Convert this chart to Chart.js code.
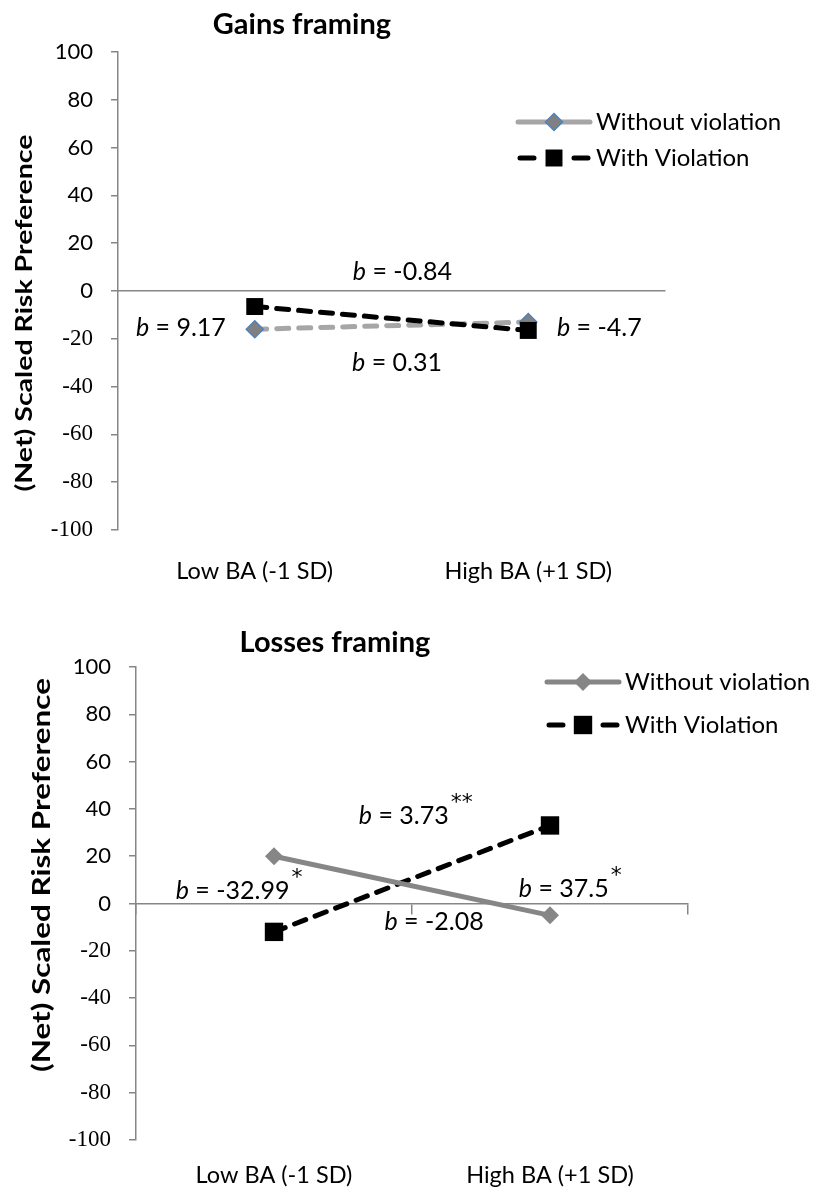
<!DOCTYPE html>
<html>
<head>
<meta charset="utf-8">
<script src="https://cdn.jsdelivr.net/npm/chart.js@4.4.0/dist/chart.umd.min.js"></script>
<style>
  body { margin: 0; background: #fff; }
  .box { position: absolute; left: 0; width: 813px; }
</style>
</head>
<body>
<div class="box" style="top:0;height:595px"><canvas id="gains" width="813" height="595"></canvas></div>
<div class="box" style="top:600px;height:589px"><canvas id="losses" width="813" height="589"></canvas></div>
<script>
const categories = ["Low BA (-1 SD)", "High BA (+1 SD)"];
const seriesNames = ["Without violation", "With Violation"];

// Gains framing
const gainsWithout = [-16, -13];
const gainsWith = [-6.5, -16.5];
const gainsSlopes = ["-0.84", "9.17", "-4.7", "0.31"];
const gainsStars = ["", "", "", ""];

// Losses framing
const lossesWithout = [20, -5];
const lossesWith = [-12, 33];
const lossesSlopes = ["3.73", "-32.99", "37.5", "-2.08"];
const lossesStars = ["**", "*", "*", ""];

const AXIS = "#868686";
const SANS = "Lato, sans-serif";
const SERIF = "'Liberation Serif', serif";

Chart.defaults.font.family = SANS;
Chart.defaults.color = "#000";

function drawMarker(ctx, style, x, y, r, fill, stroke, bw) {
  ctx.beginPath();
  if (style === "rectRot") {
    ctx.moveTo(x, y - r); ctx.lineTo(x + r, y); ctx.lineTo(x, y + r); ctx.lineTo(x - r, y);
  } else {
    const s = r * Math.SQRT1_2;
    ctx.rect(x - s, y - s, 2 * s, 2 * s);
  }
  ctx.closePath();
  ctx.fillStyle = fill;
  ctx.fill();
  if (bw) { ctx.setLineDash([]); ctx.lineWidth = bw; ctx.strokeStyle = stroke; ctx.stroke(); }
}

function drawNote(ctx, text, stars, cx, cy, size) {
  const rest = " = " + text;
  ctx.font = "italic " + size + "px " + SANS;
  const wb = ctx.measureText("b").width;
  ctx.font = size + "px " + SANS;
  const wr = ctx.measureText(rest).width;
  const x0 = cx - (wb + wr) / 2;
  ctx.textAlign = "left";
  ctx.textBaseline = "middle";
  ctx.fillStyle = "#000";
  ctx.font = "italic " + size + "px " + SANS;
  ctx.fillText("b", x0, cy);
  ctx.font = size + "px " + SANS;
  ctx.fillText(rest, x0 + wb, cy);
  if (stars) {
    ctx.font = "22px 'DejaVu Sans', sans-serif";
    ctx.fillText(stars, x0 + wb + wr + 2, cy - size * 0.5);
  }
}

const decor = {
  id: "decor",
  afterDraw(chart, args, o) {
    const ctx = chart.ctx;
    const xs = chart.scales.x, ys = chart.scales.y;
    ctx.save();
    ctx.fillStyle = "#000";
    ctx.textAlign = "center";
    ctx.textBaseline = "middle";
    ctx.font = "bold 29px " + SANS;
    ctx.fillText(o.title, o.titleX, o.titleY);

    // y tick labels: positives in sans, negatives in serif, as in the source
    ctx.textAlign = "right";
    ys.ticks.forEach(t => {
      const py = ys.getPixelForValue(t.value);
      ctx.font = t.value < 0 ? "23px " + SERIF : "22px " + SANS;
      ctx.fillText(String(t.value), ys.right - 25, py);
    });

    // y axis title, stretched along its length like the source
    ctx.save();
    ctx.translate(o.yTitleX, o.yTitleY);
    ctx.rotate(-Math.PI / 2);
    ctx.font = "bold " + o.yTitleSize + "px " + SANS;
    const tt = "(Net) Scaled Risk Preference";
    const tw = ctx.measureText(tt).width;
    ctx.scale(o.yTitleLen / tw, 1);
    ctx.textAlign = "center";
    ctx.fillText(tt, 0, 0);
    ctx.restore();

    // legend
    chart.data.datasets.forEach((ds, i) => {
      const ly = o.legendY + i * o.legendGap;
      const lx = o.legendX, len = 72;
      ctx.strokeStyle = ds.borderColor;
      ctx.lineWidth = ds.borderWidth;
      ctx.lineCap = "round";
      ctx.setLineDash([]);
      ctx.beginPath();
      if (ds.borderDash && o.solidLegend !== i) {
        ctx.moveTo(lx + 2, ly); ctx.lineTo(lx + 16, ly);
        ctx.moveTo(lx + len - 16, ly); ctx.lineTo(lx + len - 2, ly);
      } else {
        ctx.moveTo(lx, ly); ctx.lineTo(lx + len, ly);
      }
      ctx.stroke();
      drawMarker(ctx, ds.pointStyle, lx + len / 2, ly, ds.pointRadius,
        ds.pointBackgroundColor, ds.pointBorderColor, ds.pointBorderWidth);
      ctx.fillStyle = "#000";
      ctx.textAlign = "left";
      ctx.textBaseline = "middle";
      ctx.font = "24px " + SANS;
      ctx.fillText(ds.label, lx + len + 6, ly);
    });

    // slope notes, placed through the chart scales
    o.notes.forEach((p, i) => {
      drawNote(ctx, o.slopes[i], o.stars[i], xs.getPixelForValue(p[0]), ys.getPixelForValue(p[1]), 25);
    });
    ctx.restore();
  }
};

function makeChart(id, cfg) {
  return new Chart(document.getElementById(id), {
    type: "line",
    data: {
      labels: categories,
      datasets: cfg.datasets
    },
    options: {
      responsive: false,
      animation: false,
      devicePixelRatio: 1,
      layout: { padding: cfg.padding },
      plugins: {
        legend: { display: false },
        tooltip: { enabled: false },
        decor: cfg.decor
      },
      scales: {
        x: {
          type: "category",
          offset: true,
          position: "bottom",
          afterFit: s => { s.height = cfg.xHeight; },
          grid: { display: false },
          border: { display: false },
          ticks: { padding: cfg.xPad, maxRotation: 0, font: { size: 23.5 } }
        },
        x0: {
          type: "category",
          offset: true,
          position: { y: 0 },
          ticks: { display: false },
          grid: {
            display: cfg.zeroTicks, drawOnChartArea: false, offset: true,
            color: AXIS, lineWidth: 1.5, tickLength: 10
          },
          border: { color: AXIS, width: 1.5 }
        },
        y: {
          min: -100,
          max: 100,
          afterFit: s => { s.width = cfg.yWidth; },
          ticks: { stepSize: 20, display: false },
          grid: { drawOnChartArea: false, color: AXIS, lineWidth: 1.5, tickLength: 7 },
          border: { color: AXIS, width: 1.5 }
        }
      }
    },
    plugins: [decor]
  });
}

makeChart("gains", {
  padding: { top: 52, right: 148, left: 0, bottom: 0 },
  xHeight: 65,
  xPad: 19,
  yWidth: 118,
  zeroTicks: false,
  datasets: [
    {
      label: seriesNames[0],
      data: gainsWithout,
      order: 1,
      borderColor: "#A6A6A6",
      borderWidth: 5,
      borderDash: [12, 10],
      borderCapStyle: "round",
      pointStyle: "rectRot",
      pointRadius: 8.5,
      pointBackgroundColor: "#808080",
      pointBorderColor: "#4F81BD",
      pointBorderWidth: 1.5
    },
    {
      label: seriesNames[1],
      data: gainsWith,
      order: 0,
      borderColor: "#000",
      borderWidth: 5,
      borderDash: [12, 10],
      borderCapStyle: "round",
      pointStyle: "rect",
      pointRadius: 12,
      pointBackgroundColor: "#000",
      pointBorderColor: "#000",
      pointBorderWidth: 0
    }
  ],
  decor: {
    title: "Gains framing", titleX: 302, titleY: 25,
    yTitleX: 25, yTitleY: 313, yTitleSize: 23, yTitleLen: 357,
    legendX: 518, legendY: 122, legendGap: 36, solidLegend: 0,
    slopes: gainsSlopes, stars: gainsStars,
    notes: [[0.54, 8], [-0.27, -15.5], [1.26, -15.5], [0.52, -30]]
  }
});

makeChart("losses", {
  padding: { top: 67, right: 125, left: 0, bottom: 0 },
  xHeight: 49,
  xPad: 13,
  yWidth: 136,
  zeroTicks: true,
  datasets: [
    {
      label: seriesNames[0],
      data: lossesWithout,
      borderColor: "#868686",
      borderWidth: 5,
      pointStyle: "rectRot",
      pointRadius: 9,
      pointBackgroundColor: "#868686",
      pointBorderColor: "#868686",
      pointBorderWidth: 0
    },
    {
      label: seriesNames[1],
      data: lossesWith,
      borderColor: "#000",
      borderWidth: 5,
      borderDash: [12, 10],
      borderCapStyle: "round",
      pointStyle: "rect",
      pointRadius: 13,
      pointBackgroundColor: "#000",
      pointBorderColor: "#000",
      pointBorderWidth: 0
    }
  ],
  decor: {
    title: "Losses framing", titleX: 335, titleY: 43,
    yTitleX: 42, yTitleY: 275, yTitleSize: 24, yTitleLen: 394,
    legendX: 547, legendY: 82, legendGap: 43,
    slopes: lossesSlopes, stars: lossesStars,
    notes: [[0.47, 37], [-0.15, 5.5], [1.05, 6.3], [0.58, -8]]
  }
});
</script>
</body>
</html>
